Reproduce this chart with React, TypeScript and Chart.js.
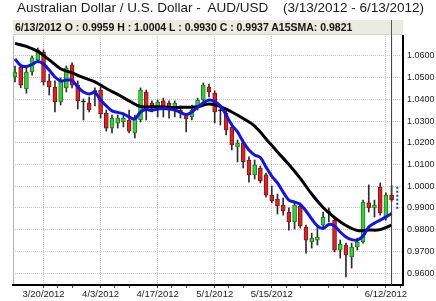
import React, { useEffect, useRef } from 'react';
import { Chart, registerables } from 'chart.js';

Chart.register(...registerables);

// ---- data (AUD/USD daily, 3/13/2012 - 6/13/2012) ----
const OPEN = [
  1.0503, 1.0549, 1.0448, 1.0526, 1.0582, 1.0618, 1.0485, 1.0457, 1.0388, 1.0453,
  1.0559, 1.0466, 1.0391, 1.0383, 1.0439, 1.0443, 1.0337, 1.0268, 1.0291, 1.0296,
  1.0305, 1.0245, 1.0305, 1.0434, 1.0383, 1.0360, 1.0393, 1.0383, 1.0360, 1.0351,
  1.0324, 1.0319, 1.0365, 1.0397, 1.0457, 1.0429, 1.0351, 1.0337, 1.0273, 1.0181,
  1.0199, 1.0121, 1.0052, 1.0084, 1.0052, 0.9959, 0.9941, 0.9913, 0.9881, 0.9835,
  0.9909, 0.9812, 0.9743, 0.9752, 0.9821, 0.9883, 0.9844, 0.9706, 0.9729, 0.9674,
  0.9720, 0.9743, 0.9923, 0.9900, 0.9996, 0.9858, 0.9959,
];
const HIGH = [
  1.0554, 1.0563, 1.0545, 1.0600, 1.0637, 1.0628, 1.0517, 1.0485, 1.0499, 1.0554,
  1.0568, 1.0485, 1.0402, 1.0411, 1.0453, 1.0457, 1.0351, 1.0328, 1.0328, 1.0337,
  1.0351, 1.0328, 1.0453, 1.0443, 1.0393, 1.0397, 1.0406, 1.0393, 1.0393, 1.0370,
  1.0333, 1.0374, 1.0406, 1.0476, 1.0471, 1.0439, 1.0374, 1.0347, 1.0291, 1.0213,
  1.0213, 1.0135, 1.0121, 1.0093, 1.0061, 1.0001, 0.9964, 0.9946, 0.9900, 0.9923,
  0.9923, 0.9821, 0.9784, 0.9812, 0.9881, 0.9900, 0.9853, 0.9752, 0.9738, 0.9738,
  0.9761, 0.9936, 1.0006, 0.9936, 1.0015, 0.9969, 1.0004,
];
const LOW = [
  1.0480, 1.0453, 1.0429, 1.0512, 1.0572, 1.0466, 1.0420, 1.0342, 1.0374, 1.0434,
  1.0453, 1.0356, 1.0305, 1.0342, 1.0370, 1.0314, 1.0254, 1.0245, 1.0268, 1.0273,
  1.0245, 1.0222, 1.0296, 1.0305, 1.0342, 1.0319, 1.0319, 1.0314, 1.0319, 1.0314,
  1.0250, 1.0305, 1.0351, 1.0388, 1.0411, 1.0291, 1.0282, 1.0236, 1.0167, 1.0112,
  1.0084, 1.0019, 1.0033, 1.0015, 0.9950, 0.9923, 0.9872, 0.9867, 0.9798, 0.9803,
  0.9807, 0.9692, 0.9715, 0.9729, 0.9807, 0.9835, 0.9697, 0.9669, 0.9582, 0.9623,
  0.9706, 0.9738, 0.9881, 0.9858, 0.9867, 0.9844, 0.9930,
];
const CLOSE = [
  1.0526, 1.0466, 1.0526, 1.0591, 1.0628, 1.0480, 1.0457, 1.0388, 1.0485, 1.0545,
  1.0466, 1.0393, 1.0388, 1.0351, 1.0436, 1.0333, 1.0268, 1.0314, 1.0314, 1.0314,
  1.0254, 1.0314, 1.0443, 1.0351, 1.0360, 1.0388, 1.0360, 1.0351, 1.0383, 1.0337,
  1.0310, 1.0351, 1.0397, 1.0466, 1.0434, 1.0342, 1.0347, 1.0259, 1.0190, 1.0199,
  1.0112, 1.0052, 1.0098, 1.0024, 0.9959, 0.9932, 0.9909, 0.9886, 0.9835, 0.9913,
  0.9817, 0.9752, 0.9761, 0.9766, 0.9858, 0.9879, 0.9706, 0.9734, 0.9683, 0.9720,
  0.9743, 0.9927, 0.9900, 0.9913, 0.9877, 0.9959, 0.9937,
];

// black line (A15SMA), read at every second session
const SMA_INDEX = [
  0, 2, 4, 6, 8, 10, 12, 14, 16, 18, 20, 22, 24, 26, 28, 30, 32, 34, 36, 38,
  40, 42, 44, 46, 48, 50, 52, 54, 56, 58, 60, 62, 64, 66,
];
const SMA15 = [
  1.0658, 1.0644, 1.0621, 1.0582, 1.0541, 1.0522, 1.0500, 1.0481, 1.0450, 1.0423,
  1.0393, 1.0367, 1.0366, 1.0365, 1.0363, 1.0364, 1.0366, 1.0379, 1.0367, 1.0342,
  1.0312, 1.0277, 1.0218, 1.0158, 1.0100, 1.0036, 0.9964, 0.9902, 0.9856, 0.9819,
  0.9796, 0.9798, 0.9800, 0.9821,
];

// blue line (short moving average), every session
const FAST_MA = [
  1.0586, 1.0556, 1.0552, 1.0561, 1.0575, 1.0563, 1.0535, 1.0503, 1.0485, 1.0489,
  1.0487, 1.0457, 1.0434, 1.0425, 1.0432, 1.0397, 1.0370, 1.0347, 1.0340, 1.0333,
  1.0319, 1.0310, 1.0342, 1.0353, 1.0349, 1.0356, 1.0358, 1.0356, 1.0351, 1.0340,
  1.0330, 1.0342, 1.0365, 1.0383, 1.0397, 1.0390, 1.0370, 1.0328, 1.0282, 1.0250,
  1.0204, 1.0167, 1.0144, 1.0132, 1.0088, 1.0047, 1.0015, 0.9973, 0.9936, 0.9927,
  0.9916, 0.9886, 0.9849, 0.9817, 0.9805, 0.9824, 0.9817, 0.9789, 0.9766, 0.9754,
  0.9752, 0.9771, 0.9812, 0.9830, 0.9844, 0.9858, 0.9874,
];

const PROJECTION_INDEX = 67;
const PROJECTION = [0.9998, 0.989];

const X_TICK_INDEX = [5, 15, 25, 35, 45, 65];
const X_TICK_LABELS = ['3/20/2012', '4/3/2012', '4/17/2012', '5/1/2012', '5/15/2012', '6/12/2012'];
const Y_TICKS = [0.96, 0.97, 0.98, 0.99, 1.0, 1.01, 1.02, 1.03, 1.04, 1.05, 1.06];

const Y_MIN = 0.9545;
const Y_MAX = 1.0692;
const X_MIN = -0.35;
const X_MAX = 68;

const TITLE = 'Australian Dollar / U.S. Dollar -  AUD/USD';
const RANGE = '(3/13/2012 - 6/13/2012)';
const INFO = '6/13/2012 O : 0.9959 H : 1.0004 L : 0.9930 C : 0.9937 A15SMA: 0.9821';

const FONT = '"Liberation Sans", Arial, sans-serif';

const RED = '#d02828';
const RED_EDGE = '#861010';
const GREEN = '#3ccc3c';
const GREEN_EDGE = '#1d7a1d';

function candleFill(i: number) {
  const d = CLOSE[i] - OPEN[i];
  if (Math.abs(d) < 0.0005) return '#111111';
  return d > 0 ? GREEN : RED;
}
function candleEdge(i: number) {
  const d = CLOSE[i] - OPEN[i];
  if (Math.abs(d) < 0.0005) return '#111111';
  return d > 0 ? GREEN_EDGE : RED_EDGE;
}

export default function App() {
  const canvasRef = useRef<HTMLCanvasElement | null>(null);

  useEffect(() => {
    const canvas = canvasRef.current;
    if (!canvas) return;
    const lastIndex = CLOSE.length - 1;

    const chart = new Chart(canvas, {
      type: 'bar',
      data: {
        datasets: [
          {
            type: 'line',
            label: 'cursor',
            data: [
              { x: lastIndex, y: Y_MIN },
              { x: lastIndex, y: Y_MAX },
            ],
            borderColor: '#3a3a3a',
            borderWidth: 1,
            pointRadius: 0,
            xAxisID: 'x',
            yAxisID: 'y',
            order: 0,
          } as any,
          {
            type: 'line',
            label: 'projection',
            data: PROJECTION.map((v) => ({ x: PROJECTION_INDEX, y: v })),
            borderColor: '#2a3f9a',
            borderWidth: 2,
            borderDash: [2, 2],
            pointRadius: 0,
            xAxisID: 'x',
            yAxisID: 'y',
            order: 0,
          } as any,
          {
            type: 'line',
            label: 'fast',
            data: FAST_MA.map((v, i) => ({ x: i, y: v })),
            borderColor: '#1414e0',
            borderWidth: 3,
            pointRadius: 0,
            tension: 0.35,
            xAxisID: 'x',
            yAxisID: 'y',
            order: 1,
          } as any,
          {
            type: 'line',
            label: 'A15SMA',
            data: SMA15.map((v, k) => ({ x: SMA_INDEX[k], y: v })),
            borderColor: '#000000',
            borderWidth: 3,
            pointRadius: 0,
            tension: 0.4,
            xAxisID: 'x',
            yAxisID: 'y',
            order: 2,
          } as any,
          {
            type: 'bar',
            label: 'body',
            data: OPEN.map((o, i) => ({ x: i, y: [o, CLOSE[i]] })),
            backgroundColor: (ctx: any) => candleFill(ctx.dataIndex),
            borderColor: (ctx: any) => candleEdge(ctx.dataIndex),
            borderWidth: 1,
            borderSkipped: false,
            barThickness: 4,
            minBarLength: 1,
            grouped: false,
            xAxisID: 'x',
            yAxisID: 'y',
            order: 3,
          } as any,
          {
            type: 'bar',
            label: 'wick',
            data: LOW.map((l, i) => ({ x: i, y: [l, HIGH[i]] })),
            backgroundColor: '#2b2b2b',
            borderWidth: 0,
            barThickness: 1,
            grouped: false,
            xAxisID: 'x',
            yAxisID: 'y',
            order: 4,
          } as any,
        ],
      },
      options: {
        animation: false,
        responsive: true,
        maintainAspectRatio: false,
        events: [],
        layout: { padding: { top: 36, left: 0, right: 0, bottom: 0 } },
        plugins: {
          legend: { display: false },
          tooltip: { enabled: false },
          title: { display: false },
        },
        scales: {
          y: {
            type: 'linear',
            position: 'right',
            min: Y_MIN,
            max: Y_MAX,
            afterBuildTicks: (scale: any) => {
              scale.ticks = Y_TICKS.map((v) => ({ value: v }));
            },
            afterFit: (scale: any) => {
              scale.width = 33;
            },
            ticks: {
              callback: (v: any) => Number(v).toFixed(4),
              font: { family: FONT, size: 9 },
              color: '#222222',
              padding: 4,
            },
            grid: {
              color: '#c4c4c4',
              lineWidth: 1,
              drawTicks: false,
            },
            border: { display: true, color: '#000000', width: 2, dash: [1, 1] },
          },
          yLeft: {
            type: 'linear',
            position: 'left',
            min: Y_MIN,
            max: Y_MAX,
            afterFit: (scale: any) => {
              scale.width = 13;
            },
            ticks: { display: false },
            grid: { display: false },
            border: { display: true, color: '#b4b4b4', width: 1 },
          },
          x: {
            type: 'linear',
            position: 'bottom',
            min: X_MIN,
            max: X_MAX,
            offset: false,
            afterBuildTicks: (scale: any) => {
              const t: { value: number }[] = [];
              for (let k = 0; k < 7; k++) {
                const base = 5 + k * 10;
                [base, base + 2.5, base + 5].forEach((v) => {
                  if (v <= 67.5) t.push({ value: v });
                });
              }
              scale.ticks = t;
            },
            afterFit: (scale: any) => {
              scale.height = 16;
            },
            ticks: {
              autoSkip: false,
              maxRotation: 0,
              padding: 1,
              font: { family: FONT, size: 9.5 },
              color: '#222222',
              callback: (v: any) => {
                const k = X_TICK_INDEX.indexOf(Number(v));
                return k >= 0 ? X_TICK_LABELS[k] : '';
              },
            },
            grid: {
              offset: false,
              color: (ctx: any) =>
                ctx.tick && X_TICK_INDEX.indexOf(ctx.tick.value) >= 0 ? '#c4c4c4' : 'rgba(0,0,0,0)',
              tickColor: '#444444',
              tickLength: 3,
              lineWidth: 1,
            },
            border: { display: true, color: '#000000', width: 2, dash: [1, 1] },
          },
        },
      } as any,
    });

    return () => chart.destroy();
  }, []);

  return (
    <div
      style={{
        position: 'fixed',
        left: 0,
        top: 0,
        width: 436,
        height: 301,
        background: '#ffffff',
        overflow: 'hidden',
      }}
    >
      <div style={{ position: 'absolute', left: 0, top: 0, width: 436, height: 301 }}>
        <canvas ref={canvasRef} />
      </div>
      <div
        style={{
          position: 'absolute',
          left: 17,
          top: 0,
          font: `13.5px ${FONT}`,
          lineHeight: '16px',
          color: '#1a1a1a',
          whiteSpace: 'pre',
        }}
      >
        {TITLE}
      </div>
      <div
        style={{
          position: 'absolute',
          left: 283,
          top: 0,
          font: `13.5px ${FONT}`,
          lineHeight: '16px',
          color: '#1a1a1a',
          whiteSpace: 'pre',
        }}
      >
        {RANGE}
      </div>
      <div
        style={{
          position: 'absolute',
          left: 13,
          top: 20,
          width: 390,
          height: 15,
          boxSizing: 'border-box',
          background: '#ecebe3',
          borderBottom: '1px solid #d4d2c8',
          font: `bold 10.5px ${FONT}`,
          lineHeight: '15px',
          color: '#111111',
          paddingLeft: 2,
          whiteSpace: 'pre',
        }}
      >
        {INFO}
      </div>
      <div
        style={{
          position: 'absolute',
          left: 391,
          top: 20,
          width: 1,
          height: 16,
          background: '#555555',
        }}
      />
    </div>
  );
}
